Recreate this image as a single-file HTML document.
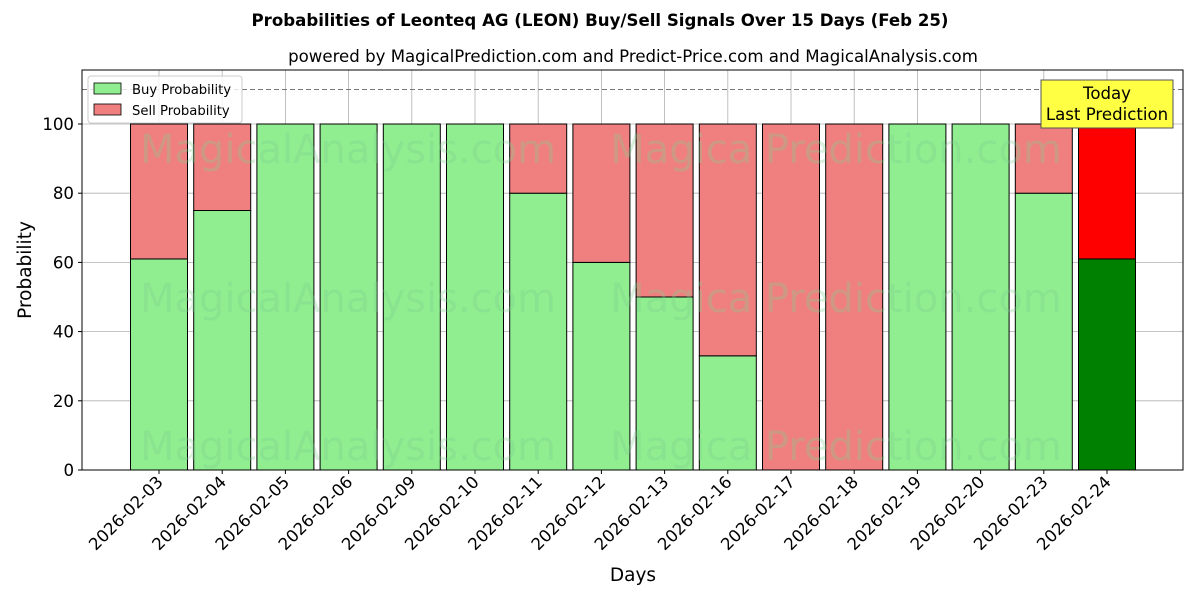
<!DOCTYPE html>
<html><head><meta charset="utf-8"><style>
body{margin:0;background:#fff;font-family:"Liberation Sans","DejaVu Sans",sans-serif}
</style></head><body>
<svg id="chart" width="1200" height="600" xmlns="http://www.w3.org/2000/svg" font-family="DejaVu Sans, Liberation Sans, sans-serif">
<rect width="1200" height="600" fill="#fff"/>
<text x="600" y="26" text-anchor="middle" font-size="16.6" font-weight="bold">Probabilities of Leonteq AG (LEON) Buy/Sell Signals Over 15 Days (Feb 25)</text>
<text x="633" y="62" text-anchor="middle" font-size="16.6">powered by MagicalPrediction.com and Predict-Price.com and MagicalAnalysis.com</text>
<g id="grid"></g>
<g id="bars"></g>
<g id="wm" fill="#7fcf8f" opacity="0.3" font-size="40">
<text x="348" y="163" text-anchor="middle">MagicalAnalysis.com</text>
<text x="836" y="163" text-anchor="middle">Magica Prediction.com</text>
<text x="348" y="312" text-anchor="middle">MagicalAnalysis.com</text>
<text x="836" y="312" text-anchor="middle">Magica Prediction.com</text>
<text x="348" y="460" text-anchor="middle">MagicalAnalysis.com</text>
<text x="836" y="460" text-anchor="middle">Magica Prediction.com</text>
</g>
<line x1="82" x2="1183" y1="89.5" y2="89.5" stroke="#777" stroke-dasharray="5,3"/>
<rect x="82" y="70" width="1101" height="400" fill="none" stroke="#000"/>
<g id="ticks"></g>
<text transform="translate(31,270) rotate(-90)" text-anchor="middle" font-size="18.5">Probability</text>
<text x="633" y="581" text-anchor="middle" font-size="18.5">Days</text>
<g>
<rect x="88" y="76" width="154" height="47" rx="3" fill="#fff" fill-opacity="0.8" stroke="#ccc"/>
<rect x="94" y="83" width="27" height="11" fill="#90ee90" stroke="#000" stroke-width="0.8"/>
<text x="132" y="94" font-size="13.2">Buy Probability</text>
<rect x="94" y="104" width="27" height="11" fill="#f08080" stroke="#000" stroke-width="0.8"/>
<text x="132" y="115" font-size="13.2">Sell Probability</text>
</g>
<g>
<rect x="1041" y="80" width="132" height="48" fill="#ffff44" stroke="#555"/>
<text x="1107" y="99" text-anchor="middle" font-size="16.6">Today</text>
<text x="1107" y="120" text-anchor="middle" font-size="16.6">Last Prediction</text>
</g>
</svg>
<script>
const days=["2026-02-03","2026-02-04","2026-02-05","2026-02-06","2026-02-09","2026-02-10","2026-02-11","2026-02-12","2026-02-13","2026-02-16","2026-02-17","2026-02-18","2026-02-19","2026-02-20","2026-02-23","2026-02-24"];
const buy=[61,75,100,100,100,100,80,60,50,33,0,0,100,100,80,61];
const sell=[39,25,0,0,0,0,20,40,50,67,100,100,0,0,20,39];
const yTicks=[0,20,40,60,80,100];
const NS="http://www.w3.org/2000/svg";
const x0=82,x1=1183,y0=470,pxPerUnit=3.46;
const xs=i=>159+i*63.2;
const ys=v=>y0-v*pxPerUnit;
const bw=57;
function mk(t,a,p){const e=document.createElementNS(NS,t);for(const k in a)e.setAttribute(k,a[k]);p.appendChild(e);return e;}
const grid=document.getElementById('grid'),bars=document.getElementById('bars'),ticks=document.getElementById('ticks');
yTicks.forEach(v=>{
  const g=mk('line',{x1:x0,x2:x1,y1:ys(v),y2:ys(v),stroke:'#b0b0b0','stroke-width':0.8},grid);
  
  
  const t=mk('line',{x1:x0-4,x2:x0,y1:ys(v),y2:ys(v),stroke:'#000'},ticks);
  
  
  const l=mk('text',{x:x0-8,y:ys(v)+6,'text-anchor':'end','font-size':16.6},ticks);
  l.textContent=v;
  
  
});
days.forEach((d,i)=>{
  const cx=xs(i);
  const g=mk('line',{x1:cx,x2:cx,y1:70,y2:y0,stroke:'#b0b0b0','stroke-width':0.8},grid);
  
  
  const last=i===days.length-1;
  const b=mk('rect',{x:cx-bw/2,y:ys(buy[i]),width:bw,height:buy[i]*pxPerUnit,fill:last?'#008000':'#90ee90',stroke:'#000','stroke-width':1},bars);
  
  
  const s=mk('rect',{x:cx-bw/2,y:ys(buy[i]+sell[i]),width:bw,height:sell[i]*pxPerUnit,fill:last?'#ff0000':'#f08080',stroke:'#000','stroke-width':1},bars);
  
  
  const t=mk('line',{x1:cx,x2:cx,y1:y0,y2:y0+4,stroke:'#000'},ticks);
  
  
  const l=mk('text',{transform:`translate(${cx+5},${y0+13}) rotate(-45)`,'text-anchor':'end','font-size':16.6},ticks);
  l.textContent=d;
  
  
});
</script>
</body></html>
